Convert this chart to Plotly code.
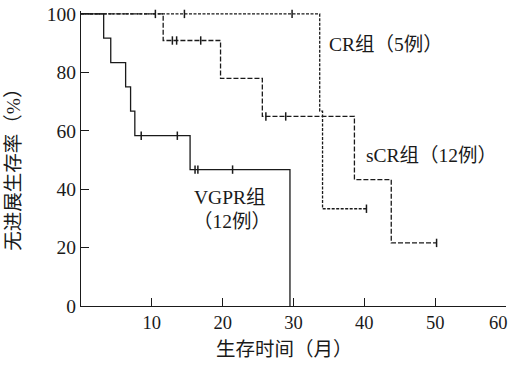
import plotly.graph_objects as go

# Kaplan-Meier step data (time in months, PFS %)
vgpr_t = [0, 3.2, 4.2, 6.3, 7.0, 7.6, 15.4, 29.5]
vgpr_s = [100, 91.7, 83.3, 75.0, 66.7, 58.3, 46.7, 0]
vgpr_cens_t = [8.5, 13.6, 16.1, 16.5, 21.4]
vgpr_cens_s = [58.3, 58.3, 46.7, 46.7, 46.7]

cr_t = [0, 33.7, 34.1, 40.3]
cr_s = [100, 66.7, 33.3, 33.3]
cr_cens_t = [14.6, 29.8, 40.3]
cr_cens_s = [100, 100, 33.3]

scr_t = [0, 11.6, 19.7, 25.6, 38.6, 43.8, 50.2]
scr_s = [100, 90.9, 77.9, 64.9, 43.3, 21.6, 21.6]
scr_cens_t = [10.5, 12.9, 13.5, 16.9, 26.1, 28.9, 50.2]
scr_cens_s = [100, 90.9, 90.9, 90.9, 64.9, 64.9, 21.6]

x_ticks = [0, 10, 20, 30, 40, 50, 60]
x_ticktext = ["", "10", "20", "30", "40", "50", ""]
x_last_label = "60"
y_ticks = [0, 20, 40, 60, 80, 100]

FONT = "Liberation Serif, 'Noto Sans CJK SC', serif"
INK = "#1a1a1a"

fig = go.Figure()

def add_group(t, s, ct, cs, dash):
    fig.add_trace(go.Scatter(x=t, y=s, mode="lines", line_shape="hv",
                             line=dict(color=INK, width=1.3, dash=dash),
                             showlegend=False, hoverinfo="skip"))
    fig.add_trace(go.Scatter(x=ct, y=cs, mode="markers", cliponaxis=False,
                             marker=dict(symbol="line-ns-open", size=6, color=INK,
                                         line=dict(color=INK, width=1.5)),
                             showlegend=False, hoverinfo="skip"))

add_group(vgpr_t, vgpr_s, vgpr_cens_t, vgpr_cens_s, "solid")
add_group(cr_t, cr_s, cr_cens_t, cr_cens_s, "3px,1.5px")
add_group(scr_t, scr_s, scr_cens_t, scr_cens_s, "5px,2px")

ann_font = dict(family=FONT, size=19.5, color=INK)
fig.add_annotation(x=34.7, y=89.4, text="CR组（5例）", showarrow=False,
                   xanchor="left", yanchor="middle", font=ann_font)
fig.add_annotation(x=40.0, y=51.7, text="sCR组（12例）", showarrow=False,
                   xanchor="left", yanchor="middle", font=ann_font)
fig.add_annotation(x=21.1, y=37.0, text="VGPR组", showarrow=False,
                   xanchor="center", yanchor="middle", font=ann_font)
fig.add_annotation(x=21.3, y=28.8, text="（12例）", showarrow=False,
                   xanchor="center", yanchor="middle", font=ann_font)

# last x tick label, nudged inside the page edge
fig.add_annotation(xref="x", yref="paper", x=x_ticks[-1], y=-0.058, text=x_last_label,
                   showarrow=False, xanchor="right", xshift=4, yanchor="middle",
                   font=dict(family=FONT, size=18.5, color=INK))

# axis titles (paper coordinates)
fig.add_annotation(xref="paper", yref="paper", x=0.478, y=-0.146, text="生存时间（月）",
                   showarrow=False, xanchor="center", yanchor="middle", font=ann_font)
fig.add_annotation(xref="paper", yref="paper", x=-0.158, y=0.478, text="无进展生存率（%）",
                   showarrow=False, textangle=-90, xanchor="center", yanchor="middle",
                   font=ann_font)

fig.update_layout(
    width=514, height=365,
    margin=dict(l=81, r=8, t=11, b=59, autoexpand=False),
    paper_bgcolor="white", plot_bgcolor="white",
    font=dict(family=FONT, size=19.5, color=INK),
    xaxis=dict(range=[0, 60], tickvals=x_ticks, ticktext=x_ticktext, automargin=False,
               tickfont=dict(size=18.5),
               ticks="inside", ticklen=8, tickcolor=INK, tickwidth=1,
               showline=True, linecolor=INK, linewidth=1.3, showgrid=False, zeroline=False),
    yaxis=dict(range=[0, 101], tickvals=y_ticks, automargin=False,
               ticks="inside", ticklen=8, tickcolor=INK, tickwidth=1,
               showline=True, linecolor=INK, linewidth=1.3, showgrid=False, zeroline=False),
)

fig.write_html("out.html", config={"displayModeBar": False},
               post_script="document.body.style.margin='0';document.body.style.overflow='hidden';")
